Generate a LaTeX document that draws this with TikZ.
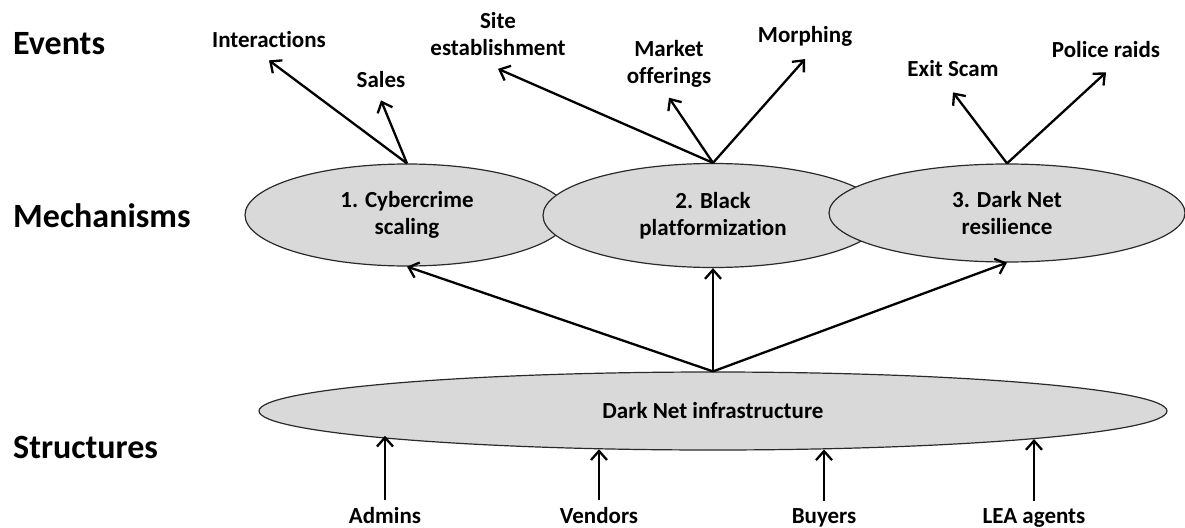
\documentclass[tikz,border=0pt]{standalone}
\usepackage{fontspec}
\setmainfont{Carlito}[RawFeature={-liga;-clig;-dlig}]
\usetikzlibrary{arrows.meta,shapes.geometric}
\definecolor{ellfill}{HTML}{D9D9D9}
\definecolor{ellline}{HTML}{2A2A2A}
\begin{document}
\begin{tikzpicture}[x=1pt,y=-1pt,
  heading/.style={font=\fontsize{34}{40}\selectfont\bfseries, inner sep=0pt, anchor=base west},
  lbl/.style={font=\fontsize{23}{27}\selectfont\bfseries, inner sep=0pt, align=center},
  mech/.style={ellipse, draw=ellline, line width=1.2pt, fill=ellfill, inner sep=0pt,
    font=\fontsize{23}{27}\selectfont\bfseries, align=center},
  arr/.style={line width=2.3pt, -{Straight Barb[length=9pt,width=16pt]}},
]
\useasboundingbox (0,0) rectangle (1185,527);

% row headings
\node[heading] (hev) at (13,55) {Events};
\node[heading] (hmech) at (13,227) {Mechanisms};
\node[heading] (hstr) at (13,458) {Structures};

% mechanisms
\node[mech, minimum width=324pt, minimum height=102pt] (e1) at (407,215) {1. Cybercrime\\scaling};
\node[mech, minimum width=340pt, minimum height=104pt] (e2) at (713,215.5) {2. Black\\platformization};
\node[mech, minimum width=356pt, minimum height=98pt] (e3) at (1007,213) {3. Dark Net\\resilience};

% structure
\node[mech, minimum width=908pt, minimum height=78pt] (infra) at (713,411) {Dark Net infrastructure};

% events
\node[lbl, anchor=base] (inter) at (269,48) {Interactions};
\node[lbl, anchor=base] (sales) at (381,88) {Sales};
\node[lbl] (site) at (498,34) {Site\\establishment};
\node[lbl] (mkt) at (669,64) {Market\\offerings};
\node[lbl, anchor=base] (morph) at (805,42) {Morphing};
\node[lbl, anchor=base] (exit) at (953,76) {Exit Scam};
\node[lbl, anchor=base] (police) at (1106,57) {Police raids};

% actors
\node[lbl, anchor=base] (adm) at (385,523) {Admins};
\node[lbl, anchor=base] (vend) at (599,523) {Vendors};
\node[lbl, anchor=base] (buy) at (824,523) {Buyers};
\node[lbl, anchor=base] (lea) at (1034,523) {LEA agents};

% connectors: events
\draw[arr] (e1.north) -- ([yshift=-12pt]inter.south);
\draw[arr] (e1.north) -- ([yshift=-12pt]sales.south);
\draw[arr] (e2.north) -- ([yshift=-13pt]site.south);
\draw[arr] (e2.north) -- ([yshift=-10pt]mkt.south);
\draw[arr] (e2.north) -- ([yshift=-13pt]morph.south);
\draw[arr] (e3.north) -- ([yshift=-16pt]exit.south);
\draw[arr] (e3.north) -- ([yshift=-15pt]police.south);

% connectors: infrastructure to mechanisms
\draw[arr] (infra.north) -- (e1.south);
\draw[arr] (infra.north) -- (e2.south);
\draw[arr] (infra.north) -- (e3.south);

% connectors: actors to infrastructure
\draw[arr] ([yshift=7pt]adm.north) -- (adm.north |- infra.184.7);
\draw[arr] ([yshift=7pt]vend.north) -- (vend.north |- infra.198.3);
\draw[arr] ([yshift=7pt]buy.north) -- (buy.north |- infra.341.2);
\draw[arr] ([yshift=7pt]lea.north) -- (lea.north |- infra.355.1);
\end{tikzpicture}
\end{document}
